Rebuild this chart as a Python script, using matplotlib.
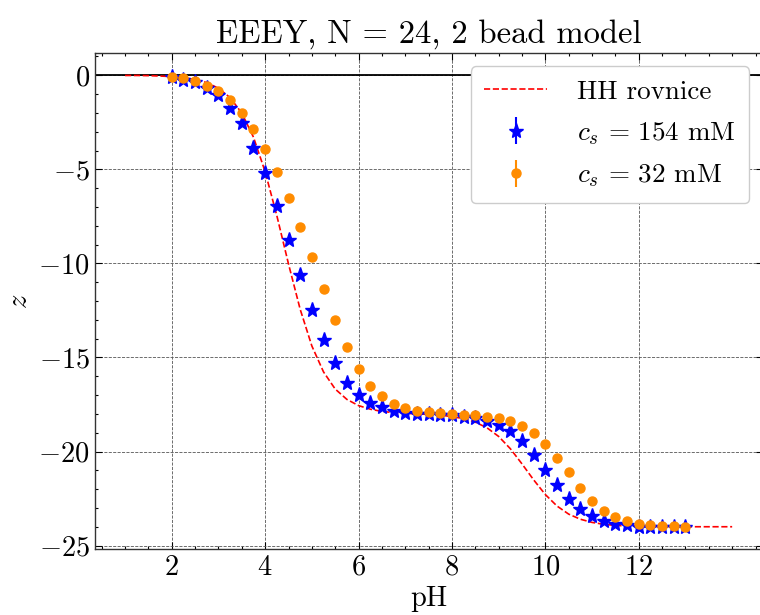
import matplotlib
matplotlib.use('Agg')
from matplotlib import pyplot as plt
from matplotlib.ticker import MultipleLocator

# HH curve (pH 1 .. 14)
hh_ph = [1.0, 1.25, 1.5, 1.75, 2.0, 2.25, 2.5, 2.75, 3.0, 3.25, 3.5, 3.75,
         4.0, 4.25, 4.5, 4.75, 5.0, 5.25, 5.5, 5.75, 6.0, 6.25, 6.5, 6.75,
         7.0, 7.25, 7.5, 7.75, 8.0, 8.25, 8.5, 8.75, 9.0, 9.25, 9.5, 9.75,
         10.0, 10.25, 10.5, 10.75, 11.0, 11.25, 11.5, 11.75, 12.0, 12.5,
         13.0, 13.5, 14.0]
hh_z = [-0.01, -0.01, -0.02, -0.04, -0.07, -0.13, -0.22, -0.39, -0.69, -1.19,
        -2.01, -3.29, -5.13, -7.46, -10.03, -12.44, -14.39, -15.77, -16.68,
        -17.23, -17.56, -17.75, -17.87, -17.93, -17.97, -18.00, -18.03, -18.06,
        -18.15, -18.25, -18.44, -18.74, -19.20, -19.85, -20.66, -21.51, -22.29,
        -22.90, -23.33, -23.60, -23.77, -23.87, -23.93, -23.96, -23.98, -23.99,
        -24.0, -24.0, -24.0]

# simulation points, pH 2 .. 13 step 0.25
sim_ph = [2.0, 2.25, 2.5, 2.75, 3.0, 3.25, 3.5, 3.75, 4.0, 4.25, 4.5, 4.75,
          5.0, 5.25, 5.5, 5.75, 6.0, 6.25, 6.5, 6.75, 7.0, 7.25, 7.5, 7.75,
          8.0, 8.25, 8.5, 8.75, 9.0, 9.25, 9.5, 9.75, 10.0, 10.25, 10.5, 10.75,
          11.0, 11.25, 11.5, 11.75, 12.0, 12.25, 12.5, 12.75, 13.0]
z_154 = [-0.07, -0.25, -0.36, -0.66, -1.06, -1.72, -2.56, -3.87, -5.22, -6.93,
         -8.75, -10.60, -12.46, -14.09, -15.32, -16.38, -17.02, -17.41, -17.66,
         -17.85, -17.94, -17.98, -18.01, -18.04, -18.07, -18.15, -18.24, -18.38,
         -18.60, -18.91, -19.44, -20.19, -20.98, -21.78, -22.53, -23.06, -23.42,
         -23.67, -23.84, -23.93, -23.99, -23.99, -24.02, -24.02, -24.02]
z_32 = [-0.07, -0.15, -0.30, -0.55, -0.84, -1.31, -1.98, -2.83, -3.92, -5.15,
        -6.53, -8.05, -9.66, -11.36, -13.03, -14.44, -15.63, -16.51, -17.07,
        -17.48, -17.70, -17.85, -17.91, -17.97, -18.01, -18.04, -18.08, -18.14,
        -18.23, -18.38, -18.65, -19.02, -19.60, -20.33, -21.10, -21.92, -22.61,
        -23.14, -23.46, -23.70, -23.83, -23.90, -23.95, -23.97, -23.99]

xticks = [2, 4, 6, 8, 10, 12]
yticks = [0, -5, -10, -15, -20, -25]

plt.rcParams.update({
    'font.family': 'serif',
    'font.serif': ['cmr10'],
    'mathtext.fontset': 'cm',
    'axes.formatter.use_mathtext': True,
    'axes.unicode_minus': True,
    'xtick.direction': 'in',
    'ytick.direction': 'in',
    'xtick.top': True,
    'ytick.right': True,
    'xtick.major.size': 5,
    'ytick.major.size': 5,
    'xtick.minor.size': 2.5,
    'ytick.minor.size': 2.5,
    'xtick.major.width': 0.8,
    'ytick.major.width': 0.8,
    'xtick.minor.width': 0.8,
    'ytick.minor.width': 0.8,
    'axes.linewidth': 1.0,
    'axes.edgecolor': '#333333',
})

fig = plt.figure(figsize=(7.6, 6.15), dpi=100)
ax = fig.add_axes([0.1246, 0.1068, 0.8787, 0.8075])

ax.grid(True, linestyle='--', color='#555555', linewidth=0.6)
ax.set_axisbelow(True)

ax.plot(hh_ph, hh_z, '--', color='red', linewidth=1.2, label='HH rovnice')
ax.errorbar(sim_ph, z_154, yerr=0, fmt='*', color='blue', markersize=11,
            linestyle='none', label=r'$c_s\,=\,154$ mM')
ax.errorbar(sim_ph, z_32, yerr=0, fmt='o', color='darkorange', markersize=6.5,
            linestyle='none', label=r'$c_s\,=\,32$ mM')
ax.axhline(0, color='black', linewidth=1.3, zorder=1)

ax.set_xlim(0.35, 14.65)
ax.set_ylim(-25.2, 1.2)
ax.set_xticks(xticks)
ax.set_yticks(yticks)
ax.xaxis.set_minor_locator(MultipleLocator(0.5))
ax.yaxis.set_minor_locator(MultipleLocator(1))
ax.tick_params(labelsize=20.5)

ax.set_title('EEEY, N = 24, 2 bead model', fontsize=23.5, pad=7)
ax.set_xlabel('pH', fontsize=20.5, labelpad=4)
ax.set_ylabel(r'$z$', fontsize=20.5)

ax.legend(loc='upper right', fontsize=19.5, frameon=True, framealpha=1,
          edgecolor='#cccccc', fancybox=True, handletextpad=1.1,
          handlelength=2.3, labelspacing=0.6, borderpad=0.5,
          borderaxespad=0.5)

fig.savefig('out.png', dpi=100)
